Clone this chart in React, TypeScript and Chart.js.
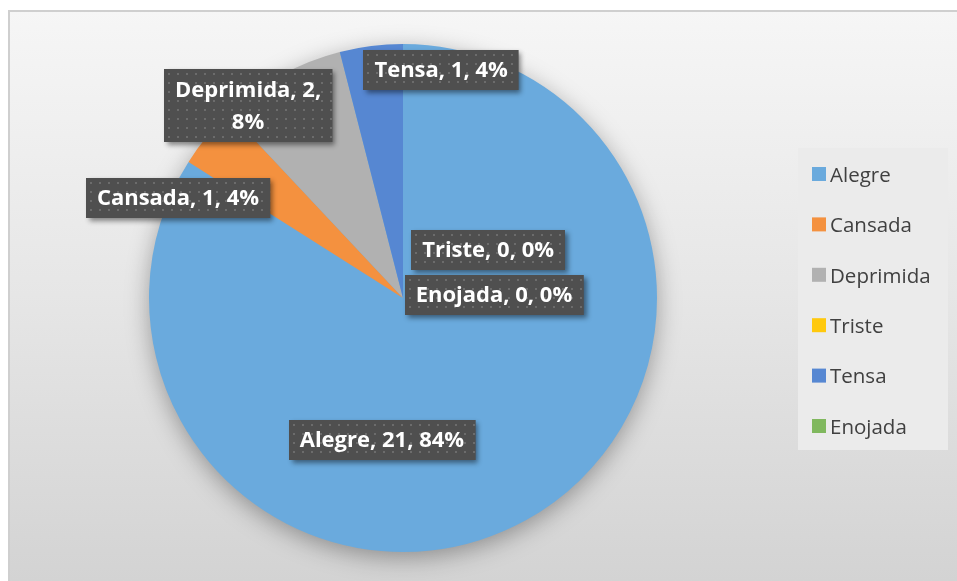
import React, { useEffect, useRef } from "react";
import { Chart, registerables } from "chart.js";

Chart.register(...registerables);

const categories = ["Alegre", "Cansada", "Deprimida", "Triste", "Tensa", "Enojada"];
const values = [21, 1, 2, 0, 1, 0];
const colors = ["#6aaadd", "#f4913f", "#b1b1b1", "#ffc90d", "#5687d2", "#80b85e"];
// label text line breaks (data label wrapping as in the original)
const labelBreaks = [false, false, true, false, false, false];
// label centre positions, as fractions of the pie radius from its centre
const labelPos: [number, number][] = [
  [-0.083, 0.559],
  [-0.886, -0.394],
  [-0.61, -0.756],
  [0.335, -0.189],
  [0.15, -0.898],
  [0.358, -0.012],
];

const LABEL_FONT = "bold 22px 'Open Sans'";
const LEGEND_FONT = "20.5px 'Open Sans'";

function makePattern(ctx: CanvasRenderingContext2D) {
  const c = document.createElement("canvas");
  c.width = 9;
  c.height = 9;
  const p = c.getContext("2d")!;
  p.fillStyle = "#4f4f4f";
  p.fillRect(0, 0, 9, 9);
  p.fillStyle = "#6c6c6c";
  p.fillRect(4, 4, 2, 2);
  return ctx.createPattern(c, "repeat");
}

const bgPlugin = {
  id: "bg",
  beforeDraw(chart: any) {
    const ctx = chart.ctx as CanvasRenderingContext2D;
    const W = chart.width, H = chart.height;
    ctx.save();
    ctx.fillStyle = "#ffffff";
    ctx.fillRect(0, 0, W, H);
    const g = ctx.createLinearGradient(0, 10, 0, H);
    g.addColorStop(0, "#f6f6f6");
    g.addColorStop(0.5, "#e6e6e6");
    g.addColorStop(1, "#d3d3d3");
    ctx.fillStyle = g;
    ctx.fillRect(8, 10, W - 8, H - 10);
    ctx.strokeStyle = "#cfcfcf";
    ctx.lineWidth = 2;
    ctx.strokeRect(9, 11, W, H);
    ctx.restore();
  },
  beforeDatasetsDraw(chart: any) {
    const ctx = chart.ctx as CanvasRenderingContext2D;
    const arc = chart.getDatasetMeta(0).data[0];
    if (!arc) return;
    ctx.save();
    ctx.shadowColor = "rgba(0,0,0,0.35)";
    ctx.shadowBlur = 24;
    ctx.shadowOffsetY = 6;
    ctx.fillStyle = colors[0];
    ctx.beginPath();
    ctx.arc(arc.x, arc.y, arc.outerRadius - 1, 0, Math.PI * 2);
    ctx.fill();
    ctx.restore();
  },
};

const labelPlugin = {
  id: "labels",
  afterDatasetsDraw(chart: any) {
    const ctx = chart.ctx as CanvasRenderingContext2D;
    const meta = chart.getDatasetMeta(0);
    const arc0 = meta.data[0];
    const cx = arc0.x, cy = arc0.y, R = arc0.outerRadius;
    const total = values.reduce((a, b) => a + b, 0);
    const pattern = makePattern(ctx);
    ctx.save();
    ctx.font = LABEL_FONT;
    categories.forEach((cat, i) => {
      const pct = Math.round((values[i] / total) * 100);
      const lines = labelBreaks[i]
        ? [`${cat}, ${values[i]},`, `${pct}%`]
        : [`${cat}, ${values[i]}, ${pct}%`];
      const lineH = 32;
      const w = Math.max(...lines.map((l) => ctx.measureText(l).width)) + 22;
      const h = lines.length === 1 ? 40 : 73;
      const x = cx + labelPos[i][0] * R;
      const y = cy + labelPos[i][1] * R;
      const bx = Math.round(x - w / 2), by = Math.round(y - h / 2);
      ctx.save();
      ctx.shadowColor = "rgba(0,0,0,0.45)";
      ctx.shadowBlur = 5;
      ctx.shadowOffsetX = 3;
      ctx.shadowOffsetY = 3;
      ctx.fillStyle = "#4f4f4f";
      ctx.fillRect(bx, by, w, h);
      ctx.restore();
      ctx.save();
      ctx.translate(bx, by);
      ctx.fillStyle = pattern || "#4f4f4f";
      ctx.fillRect(0, 0, w, h);
      ctx.restore();
      ctx.fillStyle = "#ffffff";
      ctx.textAlign = "center";
      ctx.textBaseline = "middle";
      const start = y - ((lines.length - 1) * lineH) / 2;
      lines.forEach((l, k) => ctx.fillText(l, x, start + k * lineH + 1));
    });
    ctx.restore();
  },
};

const legendPlugin = {
  id: "customLegend",
  afterDraw(chart: any) {
    const ctx = chart.ctx as CanvasRenderingContext2D;
    ctx.save();
    ctx.fillStyle = "#ebebeb";
    ctx.fillRect(798, 148, 150, 302);
    ctx.font = LEGEND_FONT;
    ctx.textBaseline = "middle";
    ctx.textAlign = "left";
    categories.forEach((cat, i) => {
      const y = 175 + i * 50.4;
      ctx.fillStyle = colors[i];
      ctx.fillRect(812, y - 8, 14, 14);
      ctx.fillStyle = "#404040";
      ctx.fillText(cat, 830, y + 1);
    });
    ctx.restore();
  },
};

export default function App() {
  const ref = useRef<HTMLCanvasElement | null>(null);
  useEffect(() => {
    document.body.style.margin = "0";
    let chart: Chart | null = null;
    let cancelled = false;
    const make = () => {
      if (cancelled) return;
      chart = new Chart(ref.current!, {
        type: "pie",
        data: {
          labels: categories,
          datasets: [
            {
              data: values,
              backgroundColor: colors,
              borderWidth: 0,
            },
          ],
        },
        options: {
          responsive: false,
          animation: false,
          layout: { padding: { left: 149, right: 300, top: 44, bottom: 29 } },
          plugins: { legend: { display: false }, tooltip: { enabled: false } },
          events: [],
        },
        plugins: [bgPlugin, labelPlugin, legendPlugin],
      });
    };
    const fonts = (document as any).fonts;
    if (fonts && fonts.load) {
      Promise.all([fonts.load(LABEL_FONT), fonts.load(LEGEND_FONT)]).then(make, make);
    } else make();
    return () => {
      cancelled = true;
      if (chart) chart.destroy();
    };
  }, []);
  return <canvas ref={ref} width={957} height={581} style={{ display: "block" }} />;
}
